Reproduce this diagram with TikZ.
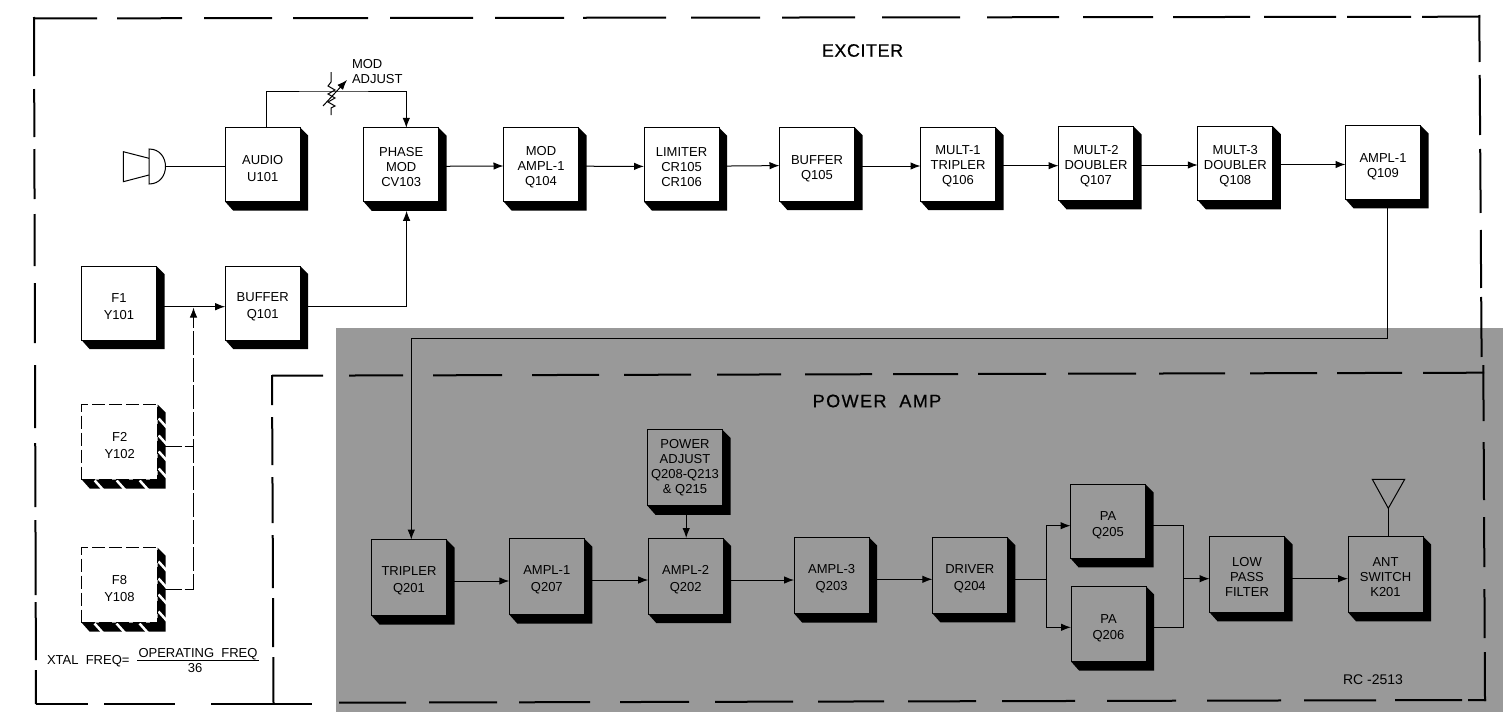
\documentclass[tikz,border=0pt]{standalone}
\usepackage{fontspec}
\setmainfont{Liberation Sans}
\newfontfamily\exfont[LetterSpace=3,FakeBold=0.6]{Liberation Sans}
\newfontfamily\pafont[LetterSpace=8,FakeBold=0.6]{Liberation Sans}
\usetikzlibrary{calc,arrows.meta}
\definecolor{panel}{HTML}{999999}

\begin{document}
\begin{tikzpicture}[x=1pt,y=-1pt,>={Latex[length=10pt,width=7.5pt]},
  lbl/.style={inner sep=0pt,outer sep=0pt,align=center,font=\fontsize{13}{15}\selectfont},
  three/.style={execute at begin node={\rule{0pt}{44pt}}},
  blk/.style={lbl,draw,line width=1pt,minimum width=75pt,minimum height=#1,
    execute at begin node={\rule{0pt}{33pt}},
    append after command={\pgfextra{\fill (\tikzlastnode.north east) -- ++(8,8)
      -- ($(\tikzlastnode.south east)+(8,9)$) -- ($(\tikzlastnode.south west)+(8,9)$)
      -- (\tikzlastnode.south west) -- (\tikzlastnode.south east) -- cycle;}}},
  blk/.default=74pt,
  dblk/.style={lbl,draw,line width=1pt,dash pattern=on 13pt off 4pt,minimum width=76pt,minimum height=75pt,
    execute at begin node={\rule{0pt}{33pt}},
    append after command={\pgfextra{\fill (\tikzlastnode.north east) -- ++(8,8)
      -- ($(\tikzlastnode.south east)+(8,9)$) -- ($(\tikzlastnode.south west)+(8,9)$)
      -- (\tikzlastnode.south west) -- (\tikzlastnode.south east) -- cycle;
      \draw[white,line width=2.5pt]
        ($(\tikzlastnode.south west)+(13,1)$) -- ++(9,10)
        ($(\tikzlastnode.south west)+(35,1)$) -- ++(9,10)
        ($(\tikzlastnode.south west)+(58,1)$) -- ++(9,10)
        ($(\tikzlastnode.north east)+(1,14)$) -- ++(9,10)
        ($(\tikzlastnode.north east)+(1,31)$) -- ++(9,10)
        ($(\tikzlastnode.north east)+(1,47)$) -- ++(9,10)
        ($(\tikzlastnode.north east)+(1,64)$) -- ++(9,10);}}},
  sig/.style={line width=1pt},
  arr/.style={sig,->},
  dsh/.style={line width=1pt,dash pattern=on 24pt off 3pt},
  frm/.style={line width=2pt}]
  \useasboundingbox (0,0) rectangle (1503,712);
  \fill[white] (0,0) rectangle (1503,712);
  \fill[panel] (336,328) rectangle (1503,712);

  % exciter frame
  \draw[frm,dash pattern=on 64pt off 20pt on 65pt off 22pt on 68pt off 21pt on 75pt off 22pt on 83pt off 22pt on 69pt off 19pt on 83pt off 25pt on 69pt off 22pt on 73pt off 27pt on 78pt off 27pt on 72pt off 24pt on 70pt off 20pt on 77pt off 14pt on 72pt off 11pt on 64pt off 11pt on 58pt off 40pt]
    (33,18.4) -- (1480,16.7);
  \draw[frm,dash pattern=on 59pt off 13pt on 48pt off 12pt on 50pt off 15pt on 52pt off 17pt on 60pt off 22pt on 63pt off 15pt on 64pt off 13pt on 75pt off 7pt on 58pt off 10pt on 34pt off 40pt]
    (34,17) -- (36,704);
  \draw[frm,dash pattern=on 47pt off 13pt on 60pt off 14pt on 64pt off 17pt on 58pt off 9pt on 60pt off 40pt]
    (1479.3,15) -- (1481.6,357);
  \draw[frm,dash pattern=on 52pt off 16pt on 71pt off 36pt on 101pt off 40pt]
    (36,703.5) -- (312,703.5);

  % power amp frame
  \draw[frm,dash pattern=on 51pt off 26pt on 54pt off 30pt on 69pt off 30pt on 67pt off 25pt on 67pt off 26pt on 64pt off 24pt on 67pt off 21pt on 65pt off 20pt on 68pt off 22pt on 68pt off 23pt on 66pt off 25pt on 67pt off 20pt on 65pt off 21pt on 61pt off 40pt]
    (272,375.7) -- (1484,372.7);
  \draw[frm,dash pattern=on 30pt off 12pt on 48pt off 12pt on 46pt off 12pt on 53pt off 10pt on 49pt off 10pt on 46pt off 40pt]
    (272,375) -- (273.5,703);
  \draw[frm,dash pattern=on 56pt off 21pt on 58pt off 17pt on 50pt off 22pt on 49pt off 14pt on 49pt off 40pt]
    (1483.3,365) -- (1485,701);
  \draw[frm,dash pattern=on 67pt off 23pt on 68pt off 22pt on 71pt off 30pt on 69pt off 26pt on 78pt off 25pt on 66pt off 24pt on 68pt off 26pt on 73pt off 32pt on 69pt off 31pt on 74pt off 23pt on 72pt off 19pt on 67pt off 6pt on 18pt off 40pt]
    (339,702.7) -- (1486,700);

  \node[font=\exfont\fontsize{18}{20}\selectfont,inner sep=0pt] (exciter) at (862.5,50.5) {EXCITER};
  \node[font=\pafont\fontsize{18}{20}\selectfont,inner sep=0pt] (poweramp) at (877,401) {POWER\ \ AMP};

  % exciter blocks
  \node[blk] (Audio) at (262.7,164.7) {AUDIO\\[2pt]U101};
  \node[blk,three] (Phase) at (401.2,164.8) {PHASE\\MOD\\CV103};
  \node[blk,three] (Mod) at (541,164.5) {MOD\\AMPL-1\\Q104};
  \node[blk,three] (Lim) at (681.5,164.7) {LIMITER\\CR105\\CR106};
  \node[blk] (Bufb) at (817,164.2) {BUFFER\\Q105};
  \node[blk,three] (Multa) at (958,164.2) {MULT-1\\TRIPLER\\Q106};
  \node[blk,three] (Multb) at (1096,163.3) {MULT-2\\DOUBLER\\Q107};
  \node[blk,three] (Multc) at (1235.3,163.3) {MULT-3\\DOUBLER\\Q108};
  \node[blk] (Ampx) at (1383,162.3) {AMPL-1\\Q109};
  \node[blk] (Fa) at (119,303) {F1\\[2pt]Y101};
  \node[blk] (Bufa) at (262.7,303) {BUFFER\\[2pt]Q101};
  \node[dblk] (Fb) at (119.7,442) {F2\\[2pt]Y102};
  \node[dblk] (Fh) at (119.5,585) {F8\\[2pt]Y108};

  % power amp blocks
  \node[blk=76pt] (Trip) at (409,577.6) {TRIPLER\\[2pt]Q201};
  \node[blk=76pt] (Ampa) at (546.8,576.6) {AMPL-1\\[2pt]Q207};
  \node[blk=76pt] (Ampb) at (685.7,576) {AMPL-2\\[2pt]Q202};
  \node[blk=76pt] (Ampc) at (831.6,575.5) {AMPL-3\\[2pt]Q203};
  \node[blk=76pt] (Drv) at (969.8,575.3) {DRIVER\\[2pt]Q204};
  \node[blk=76pt,execute at begin node={}] (Padj) at (685,467.8) {POWER\\ADJUST\\Q208-Q213\\\& Q215};
  \node[blk] (Paa) at (1108,521.3) {PA\\[1pt]Q205};
  \node[blk=75pt] (Pab) at (1108.5,624) {PA\\[1pt]Q206};
  \node[blk=76pt,three] (Low) at (1247,574.3) {LOW\\PASS\\FILTER};
  \node[blk=76pt,three] (Ant) at (1385.5,574.3) {ANT\\SWITCH\\K201};

  % microphone
  \coordinate (mic) at (165,166);
  \draw[sig] (149,158.3) -- (123.3,151.7) -- (123.3,181.7) -- (149,175);
  \draw[sig] (149,149) .. controls (171,149) and (171,184) .. (149,184) -- cycle;
  \draw[sig] (mic) -- (mic -| Audio.west);

  % mod adjust
  \coordinate (rmod) at (331,91);
  \draw[arr] ([xshift=3.6pt]Audio.north) |- (rmod) -| ([xshift=5.1pt]Phase.north);
  \draw[sig] (331,72) -- (331,82) -- (328,86) -- (335,90) -- (328,94) -- (335,98) -- (328,102) -- (335,106) -- (331,108) -- (331,115);
  \draw[arr] (323,106) -- (347,80);
  \node[lbl,align=left,anchor=west] (madj) at (352,72) {MOD\\ADJUST};

  % exciter chain
  \draw[arr] ([yshift=-1.5pt]Phase.east) -- ([yshift=-1.5pt]Mod.west);
  \draw[arr] ([yshift=-1.7pt]Mod.east) -- ([yshift=-1.7pt]Lim.west);
  \draw[arr] ([yshift=-1.4pt]Lim.east) -- ([yshift=-1.4pt]Bufb.west);
  \draw[arr] ([yshift=-1.8pt]Bufb.east) -- ([yshift=-1.8pt]Multa.west);
  \draw[arr] ([yshift=-1.5pt]Multa.east) -- ([yshift=-2.4pt]Multb.west);
  \draw[arr] ([yshift=-1.7pt]Multb.east) -- ([yshift=-1.7pt]Multc.west);
  \draw[arr] ([yshift=-1.2pt]Multc.east) -- ([yshift=-2.2pt]Ampx.west);

  % oscillator inputs
  \coordinate (jn) at (193.5,307.5);
  \draw[arr] ([yshift=-3.7pt]Fa.east) -- ([yshift=-3.7pt]Bufa.west);
  \draw[arr] ([yshift=-3.7pt]Bufa.east) -| ([xshift=5.4pt,yshift=-9pt]Phase.south);
  \draw[dsh] ([yshift=-4pt]Fb.east) -- ([yshift=-4pt]Fb.east -| jn);
  \draw[dsh,->] ([yshift=-4pt]Fh.east) -| (jn);

  % exciter to power amp
  \coordinate (bus) at (900,338.5);
  \draw[arr] ([xshift=4.7pt]Ampx.south) |- (bus) -| ([xshift=2.3pt]Trip.north);

  % power amp chain
  \draw[arr] ([yshift=-3.4pt]Trip.east) -- ([yshift=-4.4pt]Ampa.west);
  \draw[arr] ([yshift=-3.4pt]Ampa.east) -- ([yshift=-4pt]Ampb.west);
  \draw[arr] ([yshift=-4pt]Ampb.east) -- ([yshift=-4.5pt]Ampc.west);
  \draw[arr] ([yshift=-3.8pt]Ampc.east) -- ([yshift=-4pt]Drv.west);
  \draw[arr] ([xshift=1.2pt,yshift=-9pt]Padj.south) -- ([xshift=0.5pt]Ampb.north);

  \coordinate (spl) at (1046.7,579.3);
  \coordinate (mrg) at (1183.3,578.7);
  \draw[sig] ([yshift=-4pt]Drv.east) -- (spl);
  \draw[arr] (spl) |- ([yshift=-4.4pt]Paa.west);
  \draw[arr] (spl) |- ([yshift=-3.3pt]Pab.west);
  \draw[sig] ([yshift=-4.4pt]Paa.east) -| (mrg);
  \draw[sig] ([yshift=-3.3pt]Pab.east) -| (mrg);
  \draw[arr] (mrg) -- ([yshift=-4.4pt]Low.west);
  \draw[arr] ([yshift=-4.4pt]Low.east) -- ([yshift=-4.4pt]Ant.west);

  % antenna
  \coordinate (aerial) at (1388.3,508.3);
  \draw[sig] ([xshift=2.8pt]Ant.north) -- (aerial);
  \draw[sig] (aerial) -- (1372.3,479.3) -- (1404.7,479.3) -- cycle;

  % crystal note
  \node[lbl,anchor=west] (xtal) at (47,660.7) {XTAL\ \ FREQ=};
  \node[lbl,anchor=south] (opf) at (198,660.3) {OPERATING\ \ FREQ};
  \node[lbl] (div) at (195,668.5) {36};
  \draw[sig] (137,660.3) -- (258.7,660.3);

  \node[lbl,anchor=west,font=\fontsize{14}{16}\selectfont] (rc) at (1343,680) {RC -2513};
\end{tikzpicture}
\end{document}
